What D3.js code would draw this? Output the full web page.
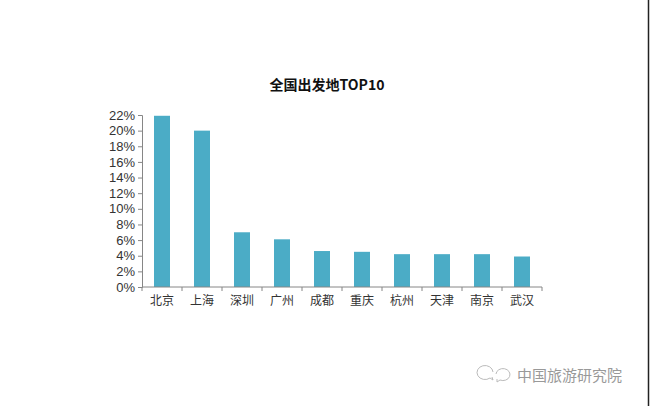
<!DOCTYPE html>
<html>
<head>
<meta charset="utf-8">
<script src="https://cdn.jsdelivr.net/npm/d3@7"></script>
<style>
  html, body { margin: 0; padding: 0; background: #fff; }
  svg { display: block; font-family: "Noto Sans CJK SC", "Noto Sans", sans-serif; }
</style>
</head>
<body>
<svg id="chart" width="650" height="406"></svg>
<script>
// data
const cities = ["北京", "上海", "深圳", "广州", "成都", "重庆", "杭州", "天津", "南京", "武汉"];
const shares = [0.219, 0.200, 0.070, 0.061, 0.046, 0.045, 0.042, 0.042, 0.042, 0.039];
const yTicks = [0, 0.02, 0.04, 0.06, 0.08, 0.10, 0.12, 0.14, 0.16, 0.18, 0.20, 0.22];
const title = "全国出发地TOP10";
const watermark = "中国旅游研究院";

const svg = d3.select("#chart");
const plotL = 142, plotR = 542, plotT = 115, plotB = 287;

svg.append("rect").attr("width", 650).attr("height", 406).attr("fill", "#fff");
// right edge border
svg.append("line")
  .attr("x1", 648.5).attr("x2", 648.5).attr("y1", 0).attr("y2", 406)
  .attr("stroke", "#222").attr("stroke-width", 1.5);

const x = d3.scaleBand().domain(cities).range([plotL, plotR]).paddingInner(0.6).paddingOuter(0.3);
const xTick = d3.scaleBand().domain(cities).range([plotL, plotR]);
const y = d3.scaleLinear().domain([0, 0.22]).range([plotB, plotT]);

svg.append("text")
  .attr("x", 327).attr("y", 90)
  .attr("text-anchor", "middle")
  .attr("font-size", 14).attr("font-weight", "bold").attr("fill", "#111")
  .text(title);

// y axis
const yAxis = svg.append("g")
  .attr("transform", `translate(${plotL},0)`)
  .call(d3.axisLeft(y).tickValues(yTicks).tickFormat(d3.format(".0%")).tickSize(4).tickPadding(3));
yAxis.select(".domain").attr("stroke", "#868686");
yAxis.selectAll(".tick line").attr("stroke", "#868686");
yAxis.selectAll(".tick text").attr("font-size", 13).attr("fill", "#333")
  .attr("font-family", "'Liberation Sans', 'DejaVu Sans', sans-serif");

// bars
svg.append("g").selectAll("rect")
  .data(cities)
  .join("rect")
  .attr("x", d => x(d))
  .attr("width", x.bandwidth())
  .attr("y", (d, i) => y(shares[i]))
  .attr("height", (d, i) => plotB - y(shares[i]))
  .attr("fill", "#4bacc6");

// x axis
const xg = svg.append("g").attr("transform", `translate(0,${plotB})`);
xg.append("line").attr("x1", plotL).attr("x2", plotR).attr("stroke", "#868686");
xg.selectAll("line.tk")
  .data(cities.concat(["end"]))
  .join("line")
  .attr("class", "tk")
  .attr("x1", (d, i) => i < cities.length ? xTick(d) : plotR)
  .attr("x2", (d, i) => i < cities.length ? xTick(d) : plotR)
  .attr("y1", 0).attr("y2", 4)
  .attr("stroke", "#868686");
xg.selectAll("text")
  .data(cities)
  .join("text")
  .attr("x", d => xTick(d) + xTick.bandwidth() / 2)
  .attr("y", 18)
  .attr("text-anchor", "middle")
  .attr("font-size", 12).attr("fill", "#333")
  .text(d => d);

// watermark
const wm = svg.append("g").attr("fill", "none").attr("stroke", "#bbb").attr("stroke-width", 1);
wm.append("path").attr("d", "M493,372 a8,7 0 1 0 -3,6 l3,2 -1,-3");
wm.append("path").attr("d", "M496,374 a7,6 0 1 1 4,6 l-3,2 0,-3");
svg.append("text")
  .attr("x", 517).attr("y", 381)
  .attr("font-size", 15).attr("fill", "#999")
  .text(watermark);
</script>
</body>
</html>
